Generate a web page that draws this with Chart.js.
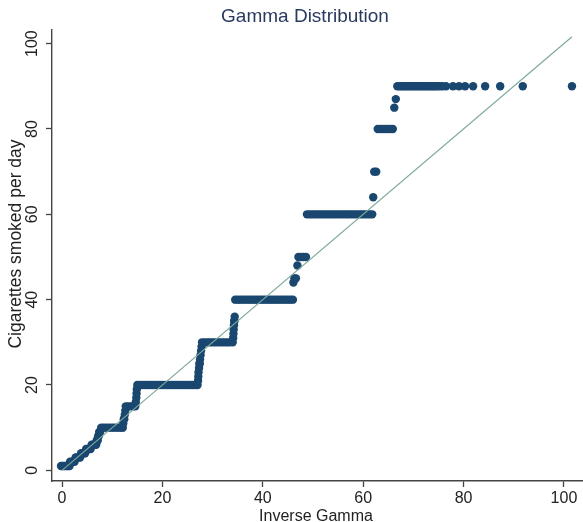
<!DOCTYPE html>
<html>
<head>
<meta charset="utf-8">
<script src="https://cdn.jsdelivr.net/npm/chart.js@4.4.1/dist/chart.umd.min.js"></script>
<style>
  html, body { margin: 0; padding: 0; background: #ffffff; }
  #wrap { width: 583px; height: 522px; }
</style>
</head>
<body>
<div id="wrap"><canvas id="myChart" width="583" height="522"></canvas></div>
<script>
// cigarettes per day (sorted levels) and the inverse gamma quantiles read at each level
const cigLevels = [1, 2, 3, 4, 5, 6, 7, 8, 9, 10, 11, 12, 13, 14, 15, 16, 17, 18, 19, 20,
  21, 22, 23, 24, 25, 26, 27, 28, 29, 30, 31, 32, 33, 34, 35, 36, 40, 44, 45, 48, 50,
  60, 64, 70, 80, 85, 87, 90];
const invGammaAtLevel = [
  [-0.2, 0.1, 0.4, 0.7, 1.0, 1.3, 1.5],
  [1.6, 1.9, 2.2, 2.5],
  [2.7, 3.0, 3.3, 3.6],
  [3.8, 4.1, 4.4, 4.6],
  [4.8, 5.1, 5.4, 5.7],
  [5.9, 6.2, 6.5, 6.8],
  [6.9, 7.0, 7.1],
  [7.2, 7.3],
  [7.4, 7.6],
  [7.8, 8.3, 8.8, 9.3, 9.8, 10.3, 10.8, 11.3, 11.8, 12.1],
  [12.2],
  [12.3, 12.4],
  [12.5],
  [12.6],
  [12.7, 13.2, 13.7, 14.2, 14.6],
  [14.7],
  [14.8],
  [14.85],
  [14.9],
  [15.0, 15.5, 16.0, 16.5, 17.0, 17.5, 18.0, 18.5, 19.0, 19.5, 20.0, 20.5, 21.0,
   21.5, 22.0, 22.5, 23.0, 23.5, 24.0, 24.5, 25.0, 25.5, 26.0, 26.5, 27.0],
  [27.1],
  [27.15],
  [27.2],
  [27.3],
  [27.35, 27.45],
  [27.5],
  [27.6],
  [27.7],
  [27.8],
  [27.9, 28.4, 28.9, 29.4, 29.9, 30.4, 30.9, 31.4, 31.9, 32.4, 32.9, 33.4, 34.0],
  [34.1],
  [34.15],
  [34.2],
  [34.25],
  [34.3, 34.35],
  [34.4],
  [34.5, 35.0, 35.5, 36.0, 36.5, 37.0, 37.5, 38.0, 38.5, 39.0, 39.5, 40.0, 40.5,
   41.0, 41.5, 42.0, 42.5, 43.0, 43.5, 44.0, 44.5, 45.0, 45.5, 46.0],
  [46.1],
  [46.3, 46.6],
  [46.9],
  [47.1, 47.6, 48.1, 48.6],
  [48.8, 49.3, 49.8, 50.3, 50.8, 51.3, 51.8, 52.3, 52.8, 53.3, 53.8, 54.3, 54.8,
   55.3, 55.8, 56.3, 56.8, 57.3, 57.8, 58.3, 58.8, 59.3, 59.8, 60.3, 60.8, 61.3, 61.8],
  [62.0],
  [62.2, 62.6],
  [62.9, 63.4, 63.9, 64.4, 64.9, 65.4, 65.9],
  [66.2],
  [66.5],
  [66.8, 67.2, 67.6, 68.0, 68.4, 68.8, 69.2, 69.6, 70.0, 70.4, 70.8, 71.2, 71.6,
   72.0, 72.4, 72.8, 73.2, 73.6, 74.0, 74.4, 74.8, 75.3, 75.8, 76.5, 77.9, 79.1,
   80.3, 81.9, 84.3, 87.3, 91.8, 101.6]
];
// 45 degree reference line
const refLineX = [0, 101.6];
const refLineY = [0, 101.6];
const tickValues = [0, 20, 40, 60, 80, 100];

const points = [];
cigLevels.forEach((lvl, i) => {
  invGammaAtLevel[i].forEach(x => points.push({ x: x, y: lvl }));
});
const refLine = refLineX.map((x, i) => ({ x: x, y: refLineY[i] }));

const FONT = "'Liberation Sans', Arial, Helvetica, sans-serif";
const TEXT = '#222222';
const AXIS = '#444444';

const fixTicks = (scale) => {
  scale.ticks = tickValues.map(v => ({ value: v, label: String(v) }));
};

const textPlugin = {
  id: 'stata-text',
  afterDraw: (chart) => {
    const ctx = chart.ctx;
    const y = chart.scales.y;
    ctx.save();
    // title
    ctx.fillStyle = '#2a3a5e';
    ctx.font = '19px ' + FONT;
    ctx.textAlign = 'center';
    ctx.textBaseline = 'alphabetic';
    ctx.fillText('Gamma Distribution', 305, 22);

    // y tick labels, rotated
    ctx.fillStyle = TEXT;
    ctx.font = '16px ' + FONT;
    tickValues.forEach(v => {
      ctx.save();
      ctx.translate(33, y.getPixelForValue(v));
      ctx.rotate(-Math.PI / 2);
      ctx.textAlign = 'center';
      ctx.textBaseline = 'middle';
      ctx.fillText(String(v), 0, 0);
      ctx.restore();
    });

    // y axis title
    ctx.save();
    ctx.translate(16, 244);
    ctx.rotate(-Math.PI / 2);
    ctx.textAlign = 'center';
    ctx.textBaseline = 'middle';
    ctx.font = '17.5px ' + FONT;
    ctx.fillText('Cigarettes smoked per day', 0, 0);
    ctx.restore();

    // x axis title
    ctx.textAlign = 'center';
    ctx.textBaseline = 'alphabetic';
    ctx.font = '16px ' + FONT;
    ctx.fillText('Inverse Gamma', 316, 521);
    ctx.restore();
  }
};

const ctx = document.getElementById('myChart').getContext('2d');
new Chart(ctx, {
  type: 'scatter',
  data: {
    datasets: [
      {
        label: 'reference',
        data: refLine,
        showLine: true,
        borderColor: '#7ea99a',
        borderWidth: 1.2,
        pointRadius: 0,
        order: 0,
      },
      {
        label: 'Cigarettes smoked per day',
        data: points,
        backgroundColor: '#1a476f',
        borderWidth: 0,
        pointRadius: 4.2,
        order: 1,
      },
    ],
  },
  options: {
    responsive: false,
    animation: false,
    events: [],
    layout: { autoPadding: false, padding: { top: 30, right: 0, bottom: 0, left: 0 } },
    plugins: {
      legend: { display: false },
      tooltip: { enabled: false },
    },
    scales: {
      x: {
        type: 'linear',
        min: -2,
        max: 103.8,
        afterBuildTicks: fixTicks,
        afterFit: (s) => { s.height = 41; s.paddingLeft = 0; s.paddingRight = 0; },
        grid: { display: true, drawOnChartArea: false, drawTicks: true, tickLength: 6, tickColor: AXIS, tickWidth: 1.3 },
        border: { display: true, color: AXIS, width: 1.4 },
        ticks: { color: TEXT, font: { family: FONT, size: 16 }, padding: 2, maxRotation: 0, autoSkip: false },
      },
      y: {
        type: 'linear',
        min: -2.5,
        max: 103.2,
        afterBuildTicks: fixTicks,
        afterFit: (s) => { s.width = 52; s.paddingTop = 0; s.paddingBottom = 0; },
        grid: { display: true, drawOnChartArea: false, drawTicks: true, tickLength: 6, tickColor: AXIS, tickWidth: 1.3 },
        border: { display: true, color: AXIS, width: 1.4 },
        ticks: { display: false },
      },
    },
  },
  plugins: [textPlugin],
});
</script>
</body>
</html>
